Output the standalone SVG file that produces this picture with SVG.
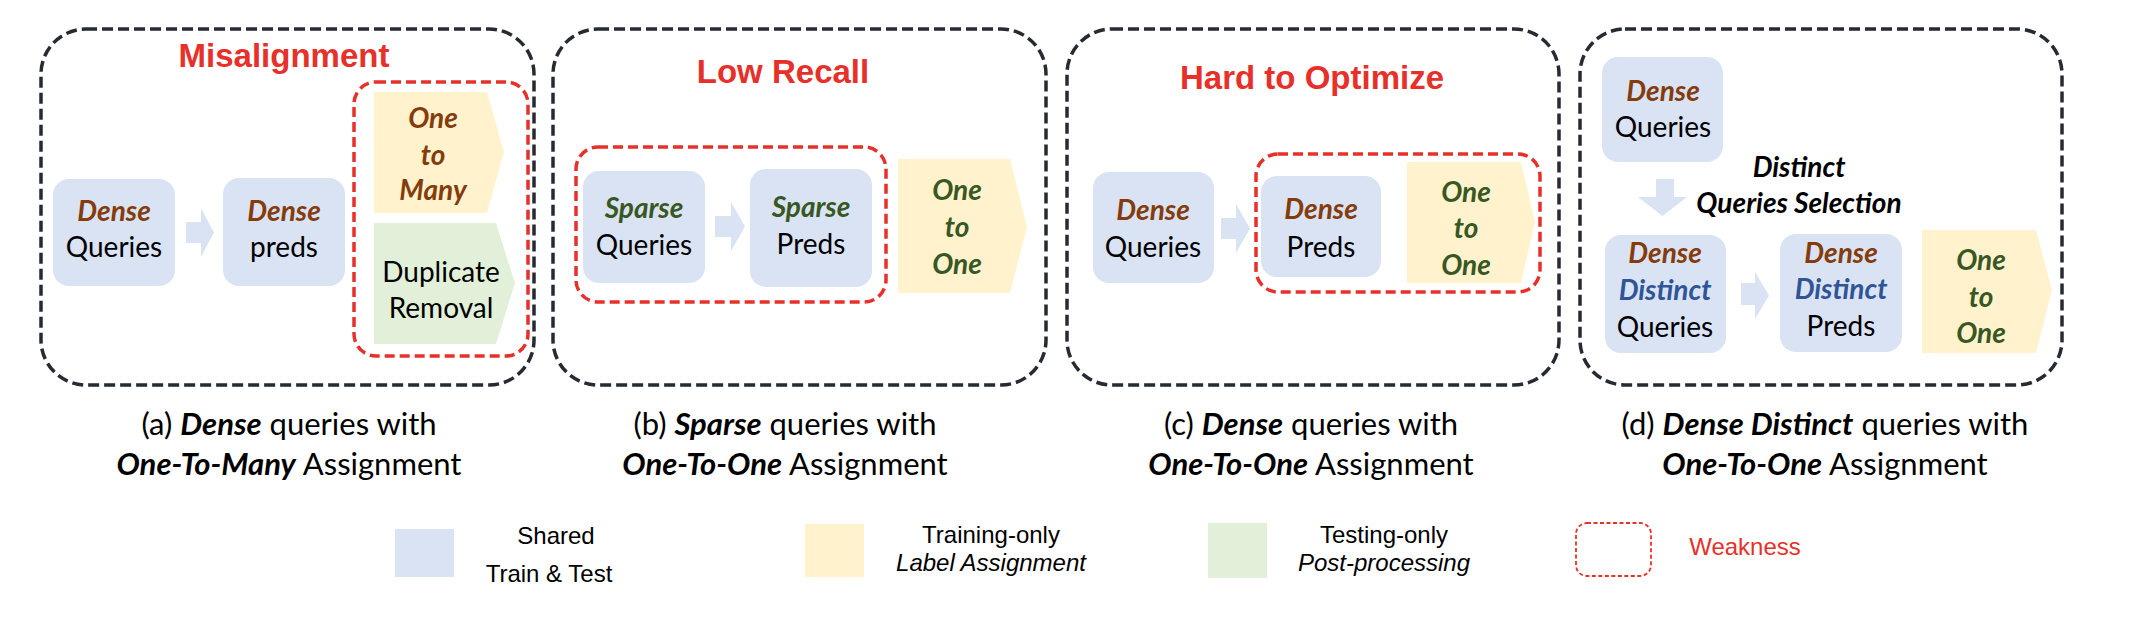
<svg xmlns="http://www.w3.org/2000/svg" width="2130" height="632" viewBox="0 0 2130 632">
<style>
.panel{fill:none;stroke:#262a33;stroke-width:3.5;stroke-dasharray:11 5}
.weak{fill:none;stroke:#e8302a;stroke-width:3.5;stroke-dasharray:10 5}
.node{fill:#dae3f3}
.train{fill:#fff2cc}
.test{fill:#e2f0d9}
.arrow{fill:#dae3f3}
.t{font-family:Lato,"Open Sans",sans-serif;font-size:28px;text-anchor:middle;fill:#000}
.bi{font-weight:bold;font-style:italic}
.br{fill:#843c0c}
.gr{fill:#385723}
.bl{fill:#2f5597}
.title{font-family:"Liberation Sans",Arial,sans-serif;font-size:33px;font-weight:bold;fill:#e8302a;text-anchor:middle}
.cap{font-family:Lato,"Open Sans",sans-serif;font-size:31px;text-anchor:middle;fill:#000}
.leg{font-family:"Liberation Sans",Arial,sans-serif;font-size:24px;text-anchor:middle;fill:#000}
.wk{fill:#e8302a}
</style>
<rect width="2130" height="632" fill="#fff"/>

<g id="panel-a">
<rect class="panel" x="41" y="29" width="493" height="356" rx="45"/>
<text class="title" x="284" y="67">Misalignment</text>
<rect class="weak" x="354" y="82" width="174" height="274" rx="22"/>
</g>
<g id="node-a-queries">
<rect class="node" x="53" y="179" width="122" height="107" rx="16"/>
<text class="t bi br" x="114" y="221">Dense</text>
<text class="t" x="114" y="257">Queries</text>
</g>
<g id="node-a-preds">
<rect class="node" x="223" y="178" width="122" height="108" rx="16"/>
<text class="t bi br" x="284" y="221">Dense</text>
<text class="t" x="284" y="257">preds</text>
</g>
<g id="node-a-o2m">
<path class="train" d="M374,92 H487 L504,152 L487,213 H374 Z"/>
<text class="t bi br" x="433" y="128">One</text>
<text class="t bi br" x="433" y="165">to</text>
<text class="t bi br" x="433" y="200">Many</text>
</g>
<g id="node-a-dup">
<path class="test" d="M374,223 H496 L515,283 L496,344 H374 Z"/>
<text class="t" x="441" y="282">Duplicate</text>
<text class="t" x="441" y="318">Removal</text>
</g>

<g id="panel-b">
<rect class="panel" x="553" y="29" width="493" height="356" rx="45"/>
<text class="title" x="783" y="83">Low Recall</text>
<rect class="weak" x="576" y="147" width="310" height="155" rx="22"/>
</g>
<g id="node-b-queries">
<rect class="node" x="583" y="171" width="122" height="112" rx="16"/>
<text class="t bi gr" x="644" y="218">Sparse</text>
<text class="t" x="644" y="255">Queries</text>
</g>
<g id="node-b-preds">
<rect class="node" x="750" y="169" width="122" height="118" rx="16"/>
<text class="t bi gr" x="811" y="217">Sparse</text>
<text class="t" x="811" y="254">Preds</text>
</g>
<g id="node-b-o2o">
<path class="train" d="M898,159 H1010 L1027,227 L1010,293 H898 Z"/>
<text class="t bi gr" x="957" y="200">One</text>
<text class="t bi gr" x="957" y="237">to</text>
<text class="t bi gr" x="957" y="274">One</text>
</g>

<g id="panel-c">
<rect class="panel" x="1067" y="29" width="492" height="356" rx="45"/>
<text class="title" x="1312" y="89">Hard to Optimize</text>
<rect class="weak" x="1256" y="154" width="284" height="138" rx="22"/>
</g>
<g id="node-c-queries">
<rect class="node" x="1093" y="172" width="121" height="111" rx="16"/>
<text class="t bi br" x="1153" y="220">Dense</text>
<text class="t" x="1153" y="257">Queries</text>
</g>
<g id="node-c-preds">
<rect class="node" x="1261" y="176" width="120" height="101" rx="16"/>
<text class="t bi br" x="1321" y="219">Dense</text>
<text class="t" x="1321" y="257">Preds</text>
</g>
<g id="node-c-o2o">
<path class="train" d="M1407,162 H1521 L1535,222 L1521,283 H1407 Z"/>
<text class="t bi gr" x="1466" y="202">One</text>
<text class="t bi gr" x="1466" y="238">to</text>
<text class="t bi gr" x="1466" y="275">One</text>
</g>

<g id="panel-d">
<rect class="panel" x="1580" y="29" width="482" height="356" rx="45"/>
<text class="t bi" x="1799" y="177">Distinct</text>
<text class="t bi" x="1799" y="213">Queries Selection</text>
</g>
<g id="node-d-dense">
<rect class="node" x="1602" y="57" width="121" height="105" rx="16"/>
<text class="t bi br" x="1663" y="101">Dense</text>
<text class="t" x="1663" y="137">Queries</text>
</g>
<g id="node-d-queries">
<rect class="node" x="1605" y="235" width="121" height="118" rx="16"/>
<text class="t bi br" x="1665" y="263">Dense</text>
<text class="t bi bl" x="1665" y="300">Distinct</text>
<text class="t" x="1665" y="337">Queries</text>
</g>
<g id="node-d-preds">
<rect class="node" x="1780" y="234" width="122" height="118" rx="16"/>
<text class="t bi br" x="1841" y="263">Dense</text>
<text class="t bi bl" x="1841" y="299">Distinct</text>
<text class="t" x="1841" y="336">Preds</text>
</g>
<g id="node-d-o2o">
<path class="train" d="M1922,230 H2036 L2052,290 L2036,353 H1922 Z"/>
<text class="t bi gr" x="1981" y="270">One</text>
<text class="t bi gr" x="1981" y="307">to</text>
<text class="t bi gr" x="1981" y="343">One</text>
</g>

<g id="connectors">
<path class="arrow" d="M186,222 H201 V208 L214,232.5 L201,257 V243 H186 Z"/>
<path class="arrow" d="M715,216 H731 V202 L745,226.5 L731,251 V237 H715 Z"/>
<path class="arrow" d="M1221,218 H1236 V204 L1250,228.5 L1236,253 V239 H1221 Z"/>
<path class="arrow" d="M1656,179 H1674 V197 H1687 L1662.5,216 L1638,197 H1656 Z"/>
<path class="arrow" d="M1741,283 H1755 V272 L1769,295.5 L1755,319 V305 H1741 Z"/>
</g>

<g id="captions">
<text class="cap" x="289" y="435">(a) <tspan class="bi">Dense</tspan> queries with</text>
<text class="cap" x="289" y="475"><tspan class="bi">One-To-Many</tspan> Assignment</text>
<text class="cap" x="785" y="435">(b) <tspan class="bi">Sparse</tspan> queries with</text>
<text class="cap" x="785" y="475"><tspan class="bi">One-To-One</tspan> Assignment</text>
<text class="cap" x="1311" y="435">(c) <tspan class="bi">Dense</tspan> queries with</text>
<text class="cap" x="1311" y="475"><tspan class="bi">One-To-One</tspan> Assignment</text>
<text class="cap" x="1825" y="435">(d) <tspan class="bi">Dense Distinct</tspan> queries with</text>
<text class="cap" x="1825" y="475"><tspan class="bi">One-To-One</tspan> Assignment</text>
</g>

<g id="legend">
<rect class="node" x="395" y="529" width="59" height="48"/>
<text class="leg" x="556" y="544">Shared</text>
<text class="leg" x="549" y="582">Train &amp; Test</text>
<rect class="train" x="805" y="524" width="59" height="53"/>
<text class="leg" x="991" y="543">Training-only</text>
<text class="leg" x="991" y="571" font-style="italic">Label Assignment</text>
<rect class="test" x="1208" y="523" width="59" height="55"/>
<text class="leg" x="1384" y="543">Testing-only</text>
<text class="leg" x="1384" y="571" font-style="italic">Post-processing</text>
<rect x="1576" y="523" width="75" height="53" rx="11" fill="none" stroke="#e8302a" stroke-width="1.8" stroke-dasharray="4 2.5"/>
<text class="leg wk" x="1745" y="555">Weakness</text>
</g>
</svg>
